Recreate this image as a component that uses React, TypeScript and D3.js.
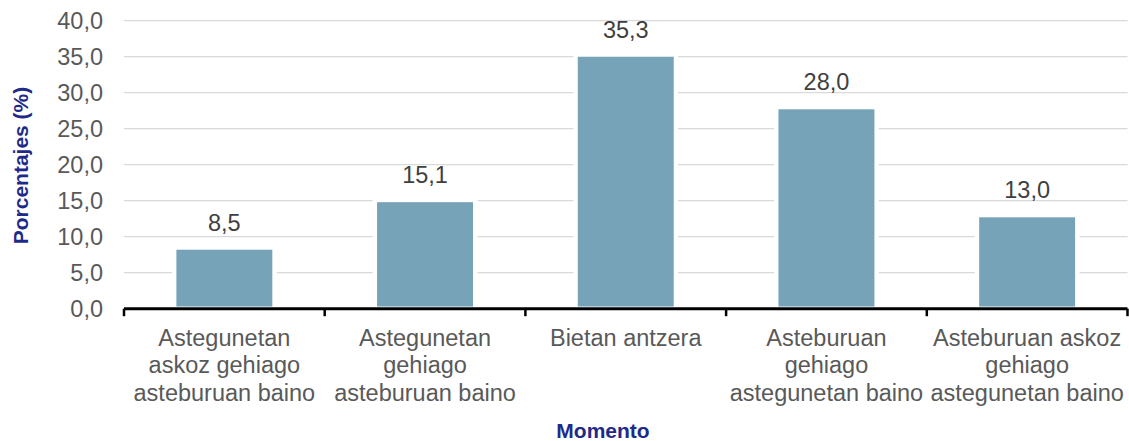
import React from "react";
import * as d3 from "d3";

const categories: string[][] = [
  ["Astegunetan", "askoz gehiago", "asteburuan baino"],
  ["Astegunetan", "gehiago", "asteburuan baino"],
  ["Bietan antzera"],
  ["Asteburuan", "gehiago", "astegunetan baino"],
  ["Asteburuan askoz", "gehiago", "astegunetan baino"],
];
const values: number[] = [8.5, 15.1, 35.3, 28.0, 13.0];
const yTicks: number[] = [0, 5, 10, 15, 20, 25, 30, 35, 40];
const yTitle = "Porcentajes (%)";
const xTitle = "Momento";

const W = 1129;
const H = 441;
const FONT = "'Liberation Sans', Arial, sans-serif";

export default function App() {
  const x0 = 124;
  const x1 = 1127.5;
  const yTop = 20.7;
  const yBot = 308.7;
  const idx = categories.map((_, i) => String(i));
  const x = d3.scaleBand<string>().domain(idx).range([x0, x1]).paddingInner(0.5).paddingOuter(0.25);
  const y = d3.scaleLinear().domain([0, 40]).range([yBot, yTop]);
  const step = x.step();
  const fmt = (v: number) => v.toFixed(1).replace(".", ",");

  return (
    <svg width={W} height={H} style={{ position: "absolute", left: 0, top: 0 }} fontFamily={FONT}>
      <rect width={W} height={H} fill="#ffffff" />
      {yTicks.map((t) => (
        <g key={t}>
          {t > 0 && (
            <line x1={x0} x2={x1} y1={y(t)} y2={y(t)} stroke="#d9d9d9" strokeWidth={1.3} />
          )}
          <text x={103} y={y(t)} dy="0.35em" textAnchor="end" fontSize={23.5} fill="#595959">
            {fmt(t)}
          </text>
        </g>
      ))}
      {values.map((v, i) => {
        const bx = x(String(i))!;
        const bw = x.bandwidth();
        return (
          <g key={i}>
            <rect
              x={bx}
              y={y(v)}
              width={bw}
              height={yBot - y(v)}
              fill="#77a3b8"
              stroke="#ffffff"
              strokeWidth={4.4}
            />
            <text
              x={bx + bw / 2}
              y={y(v) - 17}
              textAnchor="middle"
              fontSize={23.5}
              fill="#404040"
            >
              {fmt(v)}
            </text>
          </g>
        );
      })}
      <line x1={x0} x2={x1} y1={yBot} y2={yBot} stroke="#000000" strokeWidth={3} />
      {d3.range(categories.length + 1).map((i) => {
        const tx = x0 + i * step;
        return <line key={i} x1={tx} x2={tx} y1={yBot} y2={yBot + 7.5} stroke="#000000" strokeWidth={2.5} />;
      })}
      {categories.map((lines, i) => {
        const cx = x(String(i))! + x.bandwidth() / 2;
        return (
          <text key={i} textAnchor="middle" fontSize={23.5} fill="#595959">
            {lines.map((l, j) => (
              <tspan key={j} x={cx} y={345.5 + j * 27.5}>
                {l}
              </tspan>
            ))}
          </text>
        );
      })}
      <text
        x={603}
        y={438}
        textAnchor="middle"
        fontSize={21}
        fontWeight="bold"
        fill="#1e2a8a"
      >
        {xTitle}
      </text>
      <text
        transform={`translate(28,165.5) rotate(-90)`}
        textAnchor="middle"
        fontSize={21}
        fontWeight="bold"
        fill="#1e2a8a"
      >
        {yTitle}
      </text>
    </svg>
  );
}
